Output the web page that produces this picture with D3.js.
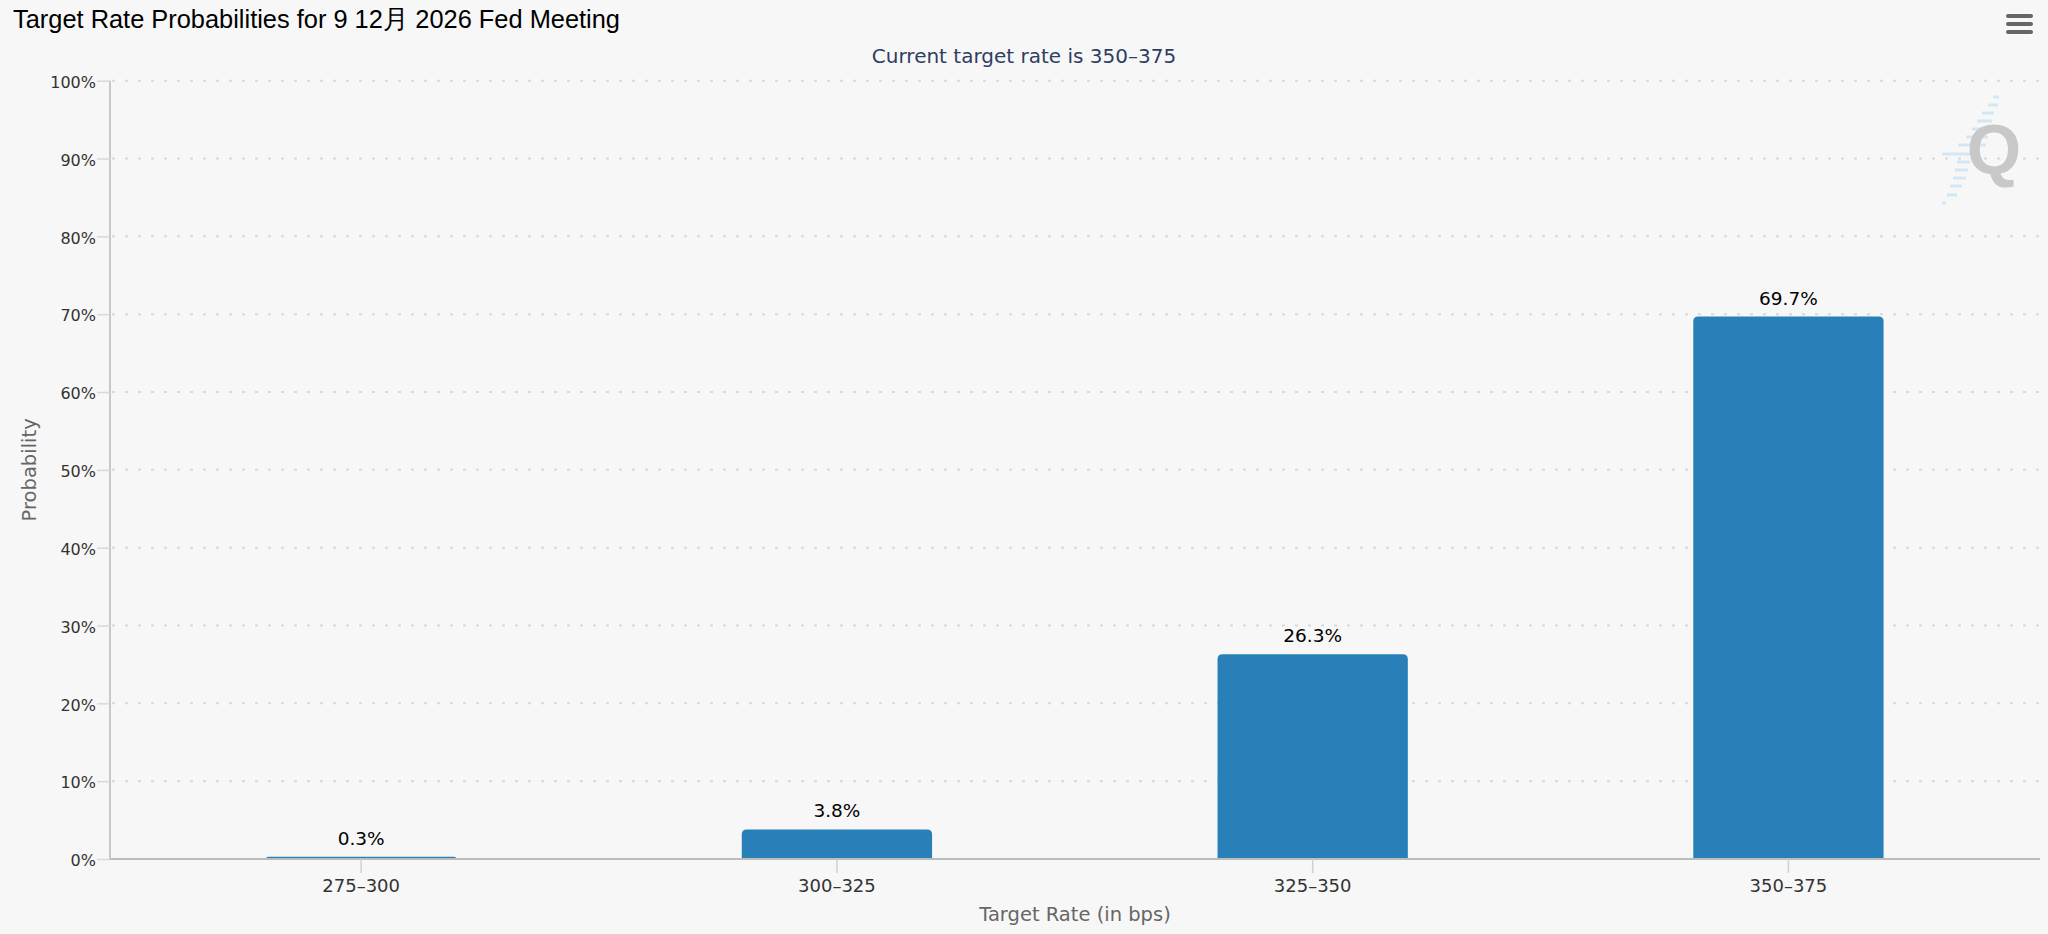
<!DOCTYPE html>
<html>
<head>
<meta charset="utf-8">
<script src="https://cdn.jsdelivr.net/npm/d3@7"></script>
<style>
  html, body { margin: 0; padding: 0; background: #f7f7f7; }
  svg { display: block; }
</style>
</head>
<body>
<svg id="chart" width="2048" height="934"></svg>
<script>
const titleText = "Target Rate Probabilities for 9 12月 2026 Fed Meeting";
const subtitleText = "Current target rate is 350–375";
const categories = ["275–300", "300–325", "325–350", "350–375"];
const probabilities = [0.3, 3.8, 26.3, 69.7];
const yTicks = [0, 10, 20, 30, 40, 50, 60, 70, 80, 90, 100];
const xAxisTitle = "Target Rate (in bps)";
const yAxisTitle = "Probability";

const W = 2048, H = 934;
const plot = { left: 110, right: 2040, top: 80.7, bottom: 859 };
const svg = d3.select("#chart");
svg.append("rect").attr("width", W).attr("height", H).attr("fill", "#f7f7f7");

const x = d3.scaleBand().domain(categories).range([123.3, 2026.3]).padding(0);
const y = d3.scaleLinear().domain([0, 100]).range([plot.bottom, plot.top]);
const bw = x.bandwidth();
const barW = bw * 0.4;

// gridlines
svg.append("g").selectAll("line").data(yTicks.filter(d => d > 0)).join("line")
  .attr("x1", plot.left + 2).attr("x2", plot.right)
  .attr("y1", d => y(d)).attr("y2", d => y(d))
  .attr("stroke", "#d9d9d9").attr("stroke-width", 2)
  .attr("stroke-dasharray", "3 10");

// watermark
const wm = svg.append("g");
const dashes = [[97,1993,1999],[105,1988,1998],[113,1982,1994],[121,1977,1992],[129,1972,1990],[137,1966,1988],[145,1958,1986],[154,1942,1972],[162,1957,1970],[170,1955,1968],[178,1953,1966],[186,1950,1962],[195,1947,1957],[203,1942,1946]];
wm.selectAll("line").data(dashes).join("line")
  .attr("x1", d => d[1]).attr("x2", d => d[2]).attr("y1", d => d[0]).attr("y2", d => d[0])
  .attr("stroke", "#d3e6f5").attr("stroke-width", 3);
wm.append("text").attr("x", 1994).attr("y", 174).attr("text-anchor", "middle")
  .attr("font-family", "Liberation Sans, Arial, sans-serif").attr("font-weight", "bold")
  .attr("font-size", 70).attr("fill", "#c8c8c8").text("Q");

// bars (rounded top corners)
function barPath(x0, y0, w, h, r) {
  r = Math.min(r, h, w / 2);
  return `M${x0},${y0 + h}V${y0 + r}Q${x0},${y0} ${x0 + r},${y0}H${x0 + w - r}Q${x0 + w},${y0} ${x0 + w},${y0 + r}V${y0 + h}Z`;
}
const data = categories.map((c, i) => ({ c, v: probabilities[i] }));
svg.append("g").selectAll("path").data(data).join("path")
  .attr("d", d => barPath(x(d.c) + (bw - barW) / 2, y(d.v), barW, y(0) - y(d.v), 5))
  .attr("fill", "#2980b9");

// bar labels
svg.append("g").selectAll("text").data(data).join("text")
  .attr("x", d => x(d.c) + bw / 2).attr("y", d => y(d.v) - 12)
  .attr("text-anchor", "middle")
  .attr("font-family", "DejaVu Sans, sans-serif").attr("font-size", 18.5)
  .attr("fill", "#000").text(d => d.v.toFixed(1) + "%");

// y axis
const yAxis = svg.append("g").attr("transform", `translate(${plot.left},0)`)
  .call(d3.axisLeft(y).tickValues(yTicks).tickFormat(d => d + "%").tickSizeOuter(0).tickSize(13).tickPadding(1));
yAxis.select(".domain").attr("stroke", "#b8b8b8").attr("stroke-width", 1.5)
  .attr("d", `M0,${plot.top}V${plot.bottom}`);
yAxis.selectAll(".tick line").attr("stroke", "#d8d8d8").attr("stroke-width", 1.5);
yAxis.selectAll(".tick text").attr("font-family", "DejaVu Sans, sans-serif")
  .attr("font-size", 16).attr("fill", "#333").attr("dy", "0.42em");

// x axis
const xAxis = svg.append("g").attr("transform", `translate(0,${plot.bottom})`)
  .call(d3.axisBottom(x).tickSizeOuter(0).tickSize(14).tickPadding(6));
xAxis.select(".domain").attr("stroke", "#bcbcbc").attr("stroke-width", 2)
  .attr("d", `M${plot.left},0H${plot.right}`);
xAxis.selectAll(".tick line").attr("stroke", "#d0d0d0").attr("stroke-width", 1.5);
xAxis.selectAll(".tick text").attr("font-family", "DejaVu Sans, sans-serif")
  .attr("font-size", 18).attr("fill", "#333");

// axis titles
svg.append("text").attr("x", (plot.left + plot.right) / 2).attr("y", 921)
  .attr("text-anchor", "middle").attr("font-family", "DejaVu Sans, sans-serif")
  .attr("font-size", 19.5).attr("fill", "#666").text(xAxisTitle);
svg.append("text").attr("transform", `translate(29,${(plot.top + plot.bottom) / 2}) rotate(-90)`)
  .attr("text-anchor", "middle").attr("dy", "0.35em").attr("font-family", "DejaVu Sans, sans-serif")
  .attr("font-size", 19.5).attr("fill", "#666").text(yAxisTitle);

// title & subtitle
const t = svg.append("text").attr("x", 13).attr("y", 28)
  .attr("font-family", "Liberation Sans, Arial, sans-serif").attr("font-size", 26)
  .attr("fill", "#000").text(titleText);
const tw = t.node().getComputedTextLength();
if (Math.abs(tw - 607) > 4) t.attr("textLength", 607).attr("lengthAdjust", "spacingAndGlyphs");
svg.append("text").attr("x", 1024).attr("y", 63).attr("text-anchor", "middle")
  .attr("font-family", "DejaVu Sans, sans-serif").attr("font-size", 20)
  .attr("fill", "#2f3d60").text(subtitleText);

// menu icon
svg.append("g").selectAll("line").data([16, 24, 32]).join("line")
  .attr("x1", 2008).attr("x2", 2031).attr("y1", d => d).attr("y2", d => d)
  .attr("stroke", "#666").attr("stroke-width", 4).attr("stroke-linecap", "round");
</script>
</body>
</html>
